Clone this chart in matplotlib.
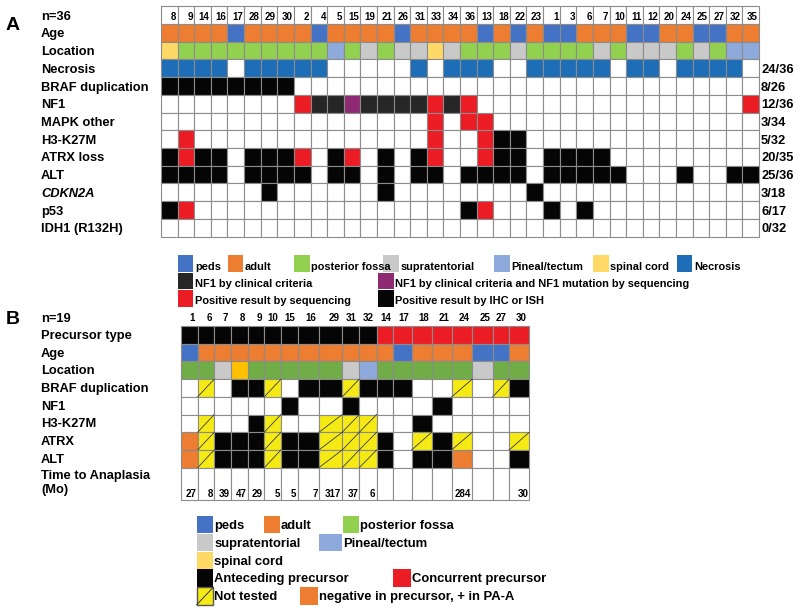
import matplotlib
matplotlib.use('Agg')
from matplotlib import pyplot as plt
from matplotlib.patches import Rectangle

plt.rcParams['font.family'] = ['Liberation Sans', 'DejaVu Sans']
plt.rcParams['font.weight'] = 'bold'

# ---------------- panel A data (one code per case, in plotted order)
a_cases = [8, 9, 14, 16, 17, 28, 29, 30, 2, 4, 5, 15, 19, 21, 26, 31, 33, 34,
           36, 13, 18, 22, 23, 1, 3, 6, 7, 10, 11, 12, 20, 24, 25, 27, 32, 35]
a_age = list('aaaapaaaap' 'aaaa' 'paaaapap' 'appaaa' 'ppaappaa')
a_location = list('cfffffffff' 'tfsf' 'sscsfffs' 'ffffsf' 'sssfsftt')
a_necrosis = list('1111011111' '0000' '01011100' '111110' '11011110')
a_braf = list('1111111100' '0000' '00000000' '000000' '00000000')
a_nf1 = list('........rn' 'nmnn' 'nnrnr...' '......' '.......r')
a_mapk = list('..........' '....' '..r.rr..' '......' '........')
a_h3 = list('.r........' '....' '..r..rkk' '......' '........')
a_atrx = list('krkk.kkkr.' 'kr.k' '.kr..rkk' '.kkkk.' '........')
a_alt = list('kkkk.kkkk.' 'kk.k' '.kk.kkkk' '.kkkkk' '...k..kk')
a_cdkn2a = list('......k...' '...k' '........' 'k.....' '........')
a_p53 = list('kr........' '....' '....kr..' '.k.k..' '........')
a_idh1 = list('..........' '....' '........' '......' '........')

a_labels = ['Age', 'Location', 'Necrosis', 'BRAF duplication', 'NF1',
            'MAPK other', 'H3-K27M', 'ATRX loss', 'ALT', 'CDKN2A', 'p53',
            'IDH1 (R132H)']
a_counts = ['', '', '24/36', '8/26', '12/36', '3/34', '5/32', '20/35',
            '25/36', '3/18', '6/17', '0/32']

# ---------------- panel B data
b_cases = [1, 6, 7, 8, 9, 10, 15, 16, 29, 31, 32, 14, 17, 18, 21, 24, 25, 27, 30]
b_precursor = list('kkkkkkkkkkk' 'rrrrrrrr')
b_age = list('paaaaaaaaaaapaaappa')
b_location = list('ffscfffff' 'st' 'fffff' 'sff')
b_braf = list('.x.kkx.kkxkkk..x.xk')
b_nf1 = list('......k..k....k....')
b_h3 = list('.x..kx..xxx..k.....')
b_atrx = list('oxkkkxkkxxxk.xkx..x')
b_alt = list('oxkkkxkkxxxk.kko..k')
b_time = [27, 8, 39, 47, 29, 5, 5, 7, 317, 37, 6, None, None, None, None,
          284, None, None, 30]

b_labels = ['Precursor type', 'Age', 'Location', 'BRAF duplication', 'NF1',
            'H3-K27M', 'ATRX', 'ALT']

# ---------------- colours
ORANGE = '#ED7D31'
PEDS = '#4472C4'
GREEN_A = '#92D050'
GREEN_B = '#70AD47'
GRAY = '#C9C9C9'
PINEAL = '#8EA9DB'
SPINAL_A = '#FFD966'
SPINAL_B = '#FFC000'
NECRO = '#1E6EB7'
BLACK = '#050505'
RED = '#EC1C24'
DARK = '#262626'
PURPLE = '#8E2A74'
YELLOW = '#F5EA14'
GRID = '#8C8C8C'

age_pal = {'a': ORANGE, 'p': PEDS}
loc_a_pal = {'f': GREEN_A, 's': GRAY, 't': PINEAL, 'c': SPINAL_A}
loc_b_pal = {'f': GREEN_B, 's': GRAY, 't': PINEAL, 'c': SPINAL_B}
necro_pal = {'1': NECRO, '0': 'white'}
braf_pal = {'1': BLACK, '0': 'white'}
gen_pal = {'.': 'white', 'k': BLACK, 'r': RED, 'n': DARK, 'm': PURPLE,
           'o': ORANGE, 'x': YELLOW}

fig = plt.figure(figsize=(8, 6.13), dpi=100)
ax = fig.add_axes([0, 0, 1, 1])
ax.set_xlim(0, 800)
ax.set_ylim(613, 0)
ax.axis('off')

LABEL_FS = 9.3
LEG_A_FS = 7.9
LEG_B_FS = 9.4
NUM_FS = 7.0


def cell(x0, x1, y0, y1, color, hatch_line=False):
    ax.add_patch(Rectangle((x0, y0), x1 - x0, y1 - y0, facecolor=color,
                           edgecolor=GRID, linewidth=0.8))
    if hatch_line:
        ax.plot([x0, x1], [y1, y0], color='#3a3a3a', linewidth=0.6)


def draw_rows(x_edges, y_edges, rows, palettes):
    for r, (codes, pal) in enumerate(zip(rows, palettes)):
        for c, code in enumerate(codes):
            cell(x_edges[c], x_edges[c + 1], y_edges[r], y_edges[r + 1],
                 pal[code], hatch_line=(code == 'x'))


# ================= panel A
a_left, a_right = 161.0, 759.0
a_w = (a_right - a_left) / len(a_cases)
a_x = [a_left + i * a_w for i in range(len(a_cases) + 1)]
a_head_top, a_top, a_rh = 5.7, 24.0, 17.72
a_y = [a_top + i * a_rh for i in range(len(a_labels) + 1)]

for i, case in enumerate(a_cases):
    cell(a_x[i], a_x[i + 1], a_head_top, a_top, 'white')
    ax.text(a_x[i + 1] - 1.2, 17.4, str(case), ha='right', va='center',
            fontsize=NUM_FS)

a_rows = [a_age, a_location, a_necrosis, a_braf, a_nf1, a_mapk, a_h3, a_atrx,
          a_alt, a_cdkn2a, a_p53, a_idh1]
a_pals = [age_pal, loc_a_pal, necro_pal, braf_pal] + [gen_pal] * 8
draw_rows(a_x, a_y, a_rows, a_pals)

ax.text(6, 26, 'A', fontsize=14, va='center', ha='left')
ax.text(41, 16.5, 'n=36', fontsize=LABEL_FS, va='center')
for r, lab in enumerate(a_labels):
    yc = (a_y[r] + a_y[r + 1]) / 2 + 1.5
    ax.text(41, yc, lab, fontsize=LABEL_FS, va='center',
            style='italic' if lab == 'CDKN2A' else 'normal')
    if a_counts[r]:
        ax.text(761, yc, a_counts[r], fontsize=LABEL_FS, va='center')

# legend A
leg_a = [
    (177.7, 255, 15.6, PEDS, 'peds'),
    (228.3, 255, 15.0, ORANGE, 'adult'),
    (294.3, 255, 15.6, GREEN_A, 'posterior fossa'),
    (383.3, 255, 15.6, GRAY, 'supratentorial'),
    (494.3, 255, 15.6, PINEAL, 'Pineal/tectum'),
    (593.3, 255, 15.6, SPINAL_A, 'spinal cord'),
    (676.7, 255, 15.6, NECRO, 'Necrosis'),
    (177.7, 272.7, 15.6, DARK, 'NF1 by clinical criteria'),
    (378.3, 272.7, 15.6, PURPLE, 'NF1 by clinical criteria and NF1 mutation by sequencing'),
    (177.7, 290, 15.6, RED, 'Positive result by sequencing'),
    (378.3, 290, 15.6, BLACK, 'Positive result by IHC or ISH'),
]
for x0, y0, w, col, txt in leg_a:
    ax.add_patch(Rectangle((x0, y0), w, 16.7, facecolor=col, edgecolor='none'))
    ax.text(x0 + w + 1.5, y0 + 11.5, txt, fontsize=LEG_A_FS, va='center')

# ================= panel B
b_widths = [17, 16.6, 16.7, 16.7, 16.6, 16.7, 16.7, 21.3, 23.3, 17, 17.4,
            16.6, 18.4, 20, 20, 20.6, 20.4, 16.6, 20]
b_x = [180.7]
for w in b_widths:
    b_x.append(b_x[-1] + w)
b_top, b_rh, b_time_h = 326.0, 17.7, 32.6
b_y = [b_top + i * b_rh for i in range(len(b_labels) + 1)]

for i, case in enumerate(b_cases):
    ax.text(b_x[i + 1] - 2.5, 318, str(case), ha='right', va='center',
            fontsize=NUM_FS)

prec_pal = {'k': BLACK, 'r': RED}
b_rows = [b_precursor, b_age, b_location, b_braf, b_nf1, b_h3, b_atrx, b_alt]
b_pals = [prec_pal, age_pal, loc_b_pal] + [gen_pal] * 5
draw_rows(b_x, b_y, b_rows, b_pals)

t0, t1 = b_y[-1], b_y[-1] + b_time_h
for i, val in enumerate(b_time):
    cell(b_x[i], b_x[i + 1], t0, t1, 'white')
    if val is not None:
        ax.text(b_x[i + 1] - 1.2, t1 - 6.5, str(val), ha='right', va='center',
                fontsize=NUM_FS)

ax.text(6, 320, 'B', fontsize=14, va='center', ha='left')
ax.text(41, 318.5, 'n=19', fontsize=LABEL_FS, va='center')
for r, lab in enumerate(b_labels):
    yc = (b_y[r] + b_y[r + 1]) / 2 + 1.0
    ax.text(41, yc, lab, fontsize=LABEL_FS, va='center')
ax.text(41, 475.7, 'Time to Anaplasia', fontsize=LABEL_FS, va='center')
ax.text(41, 490.5, '(Mo)', fontsize=LABEL_FS, va='center')

# legend B
leg_b = [
    (196.7, 516, 16.6, PEDS, 'peds', False),
    (264.0, 516, 16.0, ORANGE, 'adult', False),
    (342.7, 516, 16.6, GREEN_A, 'posterior fossa', False),
    (196.7, 534, 16.6, GRAY, 'supratentorial', False),
    (319.0, 534, 22.7, PINEAL, 'Pineal/tectum', False),
    (196.7, 551.7, 16.6, SPINAL_A, 'spinal cord', False),
    (196.7, 569.3, 16.6, BLACK, 'Anteceding precursor', False),
    (393.3, 569.3, 17.4, RED, 'Concurrent precursor', False),
    (196.7, 587.3, 16.6, YELLOW, 'Not tested', True),
    (300.0, 587.3, 18.3, ORANGE, 'negative in precursor, + in PA-A', False),
]
for x0, y0, w, col, txt, hatched in leg_b:
    if hatched:
        ax.add_patch(Rectangle((x0, y0), w, 17.4, facecolor=col,
                               edgecolor='#555555', linewidth=1.0))
        ax.plot([x0, x0 + w], [y0 + 17.4, y0], color='#333333', linewidth=0.7)
    else:
        ax.add_patch(Rectangle((x0, y0), w, 17.4, facecolor=col, edgecolor='none'))
    ax.text(x0 + w + 1.0, y0 + 10.0, txt, fontsize=LEG_B_FS, va='center')

fig.savefig('out.png', dpi=100)
